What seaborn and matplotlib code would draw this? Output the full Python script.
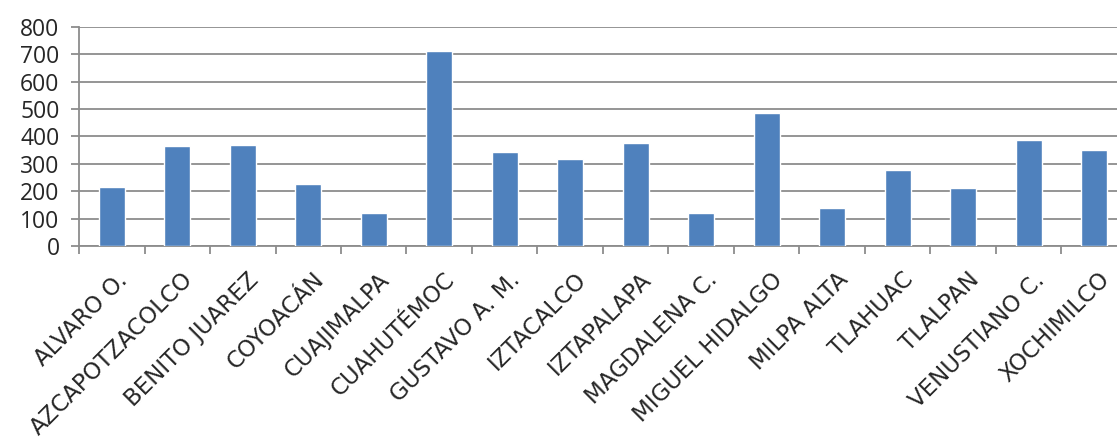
import matplotlib
matplotlib.use("Agg")
import matplotlib.pyplot as plt
import seaborn as sns
import pandas as pd

alcaldias = [
    "ALVARO O.", "AZCAPOTZACOLCO", "BENITO JUAREZ", "COYOACÁN", "CUAJIMALPA",
    "CUAHUTÉMOC", "GUSTAVO A. M.", "IZTACALCO", "IZTAPALAPA", "MAGDALENA C.",
    "MIGUEL HIDALGO", "MILPA ALTA", "TLAHUAC", "TLALPAN", "VENUSTIANO C.",
    "XOCHIMILCO",
]
valores = [214, 365, 370, 227, 120, 713, 344, 317, 377, 120, 486, 138, 276, 213, 385, 350]
y_ticks = [0, 100, 200, 300, 400, 500, 600, 700, 800]

df = pd.DataFrame({"alcaldia": alcaldias, "valor": valores})

sns.set_style("white")
plt.rcParams["font.family"] = ["DejaVu Sans"]

fig = plt.figure(figsize=(11.17, 4.40), dpi=100)
W, H = 1117, 440
left, right, bottom, top = 79, 1127, 246, 26.7
ax = fig.add_axes([left / W, (H - bottom) / H, (right - left) / W, (bottom - top) / H])

sns.barplot(data=df, x="alcaldia", y="valor", color="#4F81BD", width=0.40,
            saturation=1, ax=ax, zorder=3)

grid_c = "#8C8C8C"
ax.set_ylim(0, 800)
ax.set_xlim(-0.5, len(alcaldias) - 0.5)
ax.set_yticks(y_ticks)
ax.set_yticklabels([str(v) for v in y_ticks], fontsize=16.5, family="Open Sans")
ax.yaxis.grid(True, color=grid_c, linewidth=1.3, zorder=0)
ax.set_axisbelow(True)

# category boundary ticks on the x axis
ax.set_xticks([i - 0.5 for i in range(len(alcaldias) + 1)], minor=True)
ax.set_xticks(range(len(alcaldias)))
ax.set_xticklabels(alcaldias, rotation=45, ha="right", rotation_mode="anchor",
                   fontsize=16.5, family="DejaVu Sans")
ax.tick_params(axis="x", which="major", length=0, pad=16)
ax.tick_params(axis="x", which="minor", length=6, width=1.3, color=grid_c,
               direction="out", bottom=True)
ax.tick_params(axis="y", length=6, width=1.3, color=grid_c, direction="out",
               left=True, pad=8)
for lbl in ax.get_xticklabels():
    lbl.set_transform(lbl.get_transform() + matplotlib.transforms.ScaledTranslation(
        4 / 100, 0, fig.dpi_scale_trans))

for s in ["top", "right"]:
    ax.spines[s].set_visible(False)
for s in ["left", "bottom"]:
    ax.spines[s].set_color(grid_c)
    ax.spines[s].set_linewidth(1.3)

ax.set_xlabel("")
ax.set_ylabel("")

fig.savefig("out.png", dpi=100)
